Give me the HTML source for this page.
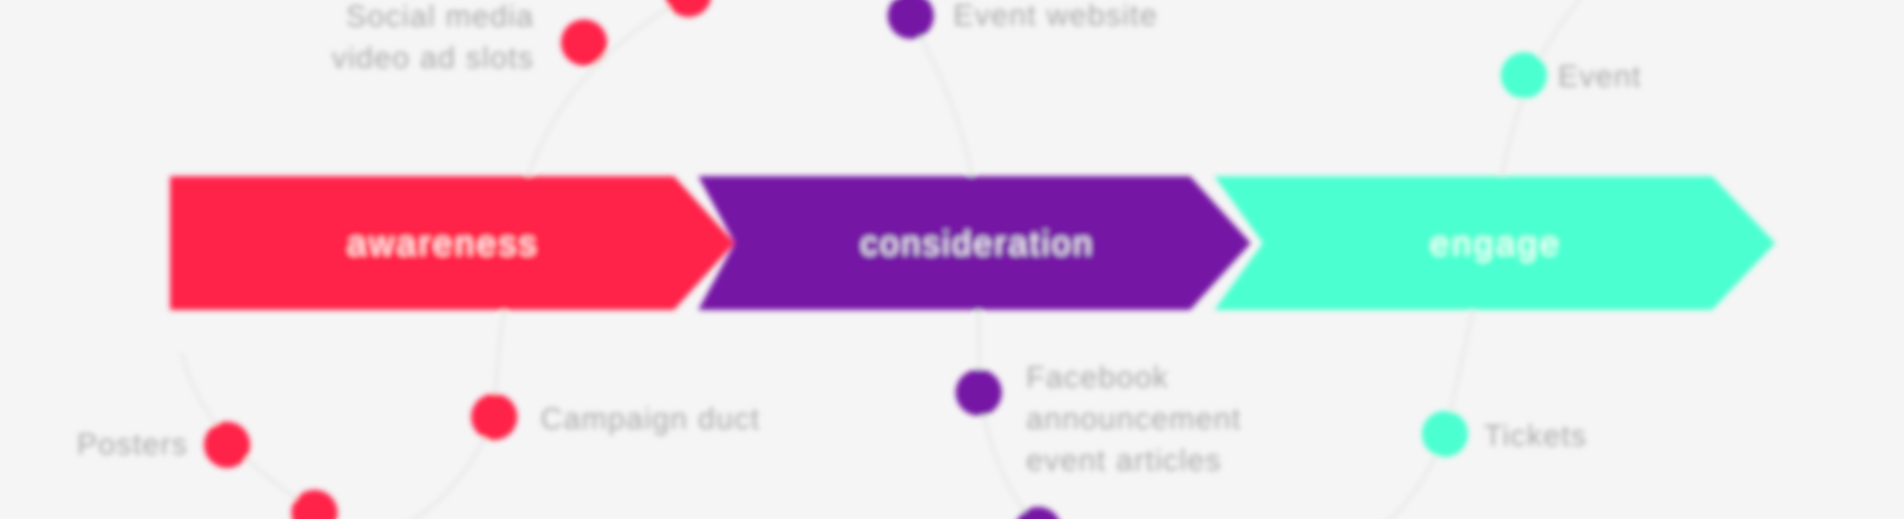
<!DOCTYPE html>
<html><head><meta charset="utf-8"><style>
html,body{margin:0;padding:0;background:#f5f5f5;overflow:hidden;width:1904px;height:519px}
svg{display:block}
text{font-family:"Liberation Sans",sans-serif}
</style></head><body>
<svg width="1904" height="519" viewBox="0 0 1568 427" preserveAspectRatio="none" overflow="hidden">
<defs><filter id="b" x="-10%" y="-10%" width="120%" height="120%"><feGaussianBlur stdDeviation="2.5"/></filter></defs>
<rect width="1568" height="427" fill="#f5f5f5"/>
<g filter="url(#b)">
<g fill="none" stroke="#e9e9e9" stroke-width="3">
<path d="M600,-20 Q470,40 435,145 Q410,260 407,343 Q380,410 320,440"/>
<path d="M150,290 Q165,360 259,420 Q280,435 300,445"/>
<path d="M735,-10 Q790,80 800,145 Q808,250 806,323 Q820,400 860,440"/>
<path d="M1310,-10 Q1260,40 1240,130 Q1215,250 1190,357 Q1170,410 1130,440"/>
</g>
<polygon points="140,145 555,145 605,200 555,255 140,255" fill="#ff2449"/>
<polygon points="575,145 980,145 1030,200 980,255 575,255 605,200" fill="#7619a5"/>
<polygon points="1000,145 1410,145 1462,200 1410,255 1000,255 1040,200" fill="#4cffd1"/>
<text x="365" y="210" fill="#fff" font-size="28" letter-spacing="2.5" text-anchor="middle">awareness</text>
<text x="805" y="210" fill="#fff" font-size="28" letter-spacing="2" text-anchor="middle">consideration</text>
<text x="1232" y="210" fill="#fff" font-size="28" letter-spacing="2.5" text-anchor="middle">engage</text>
<g>
<circle cx="567" cy="-5" r="19" fill="#ff2449"/>
<circle cx="481" cy="35" r="19" fill="#ff2449"/>
<circle cx="407" cy="343" r="19" fill="#ff2449"/>
<circle cx="187" cy="366" r="19" fill="#ff2449"/>
<circle cx="259" cy="422" r="19" fill="#ff2449"/>
<circle cx="750" cy="13" r="19" fill="#7619a5"/>
<circle cx="806" cy="323" r="19" fill="#7619a5"/>
<circle cx="855" cy="436" r="19" fill="#7619a5"/>
<circle cx="1255" cy="62" r="19" fill="#4cffd1"/>
<circle cx="1190" cy="357" r="19" fill="#4cffd1"/>
</g>
<g fill="#a8a8a8" font-size="25" letter-spacing="1">
<text x="440" y="22" text-anchor="end">Social media</text>
<text x="440" y="56" text-anchor="end">video ad slots</text>
<text x="785" y="21">Event website</text>
<text x="1283" y="71">Event</text>
<text x="445" y="353">Campaign duct</text>
<text x="155" y="374" text-anchor="end">Posters</text>
<text x="845" y="319">Facebook</text>
<text x="845" y="353">announcement</text>
<text x="845" y="387">event articles</text>
<text x="1222" y="367">Tickets</text>
</g>
</g>
</svg>
</body></html>
